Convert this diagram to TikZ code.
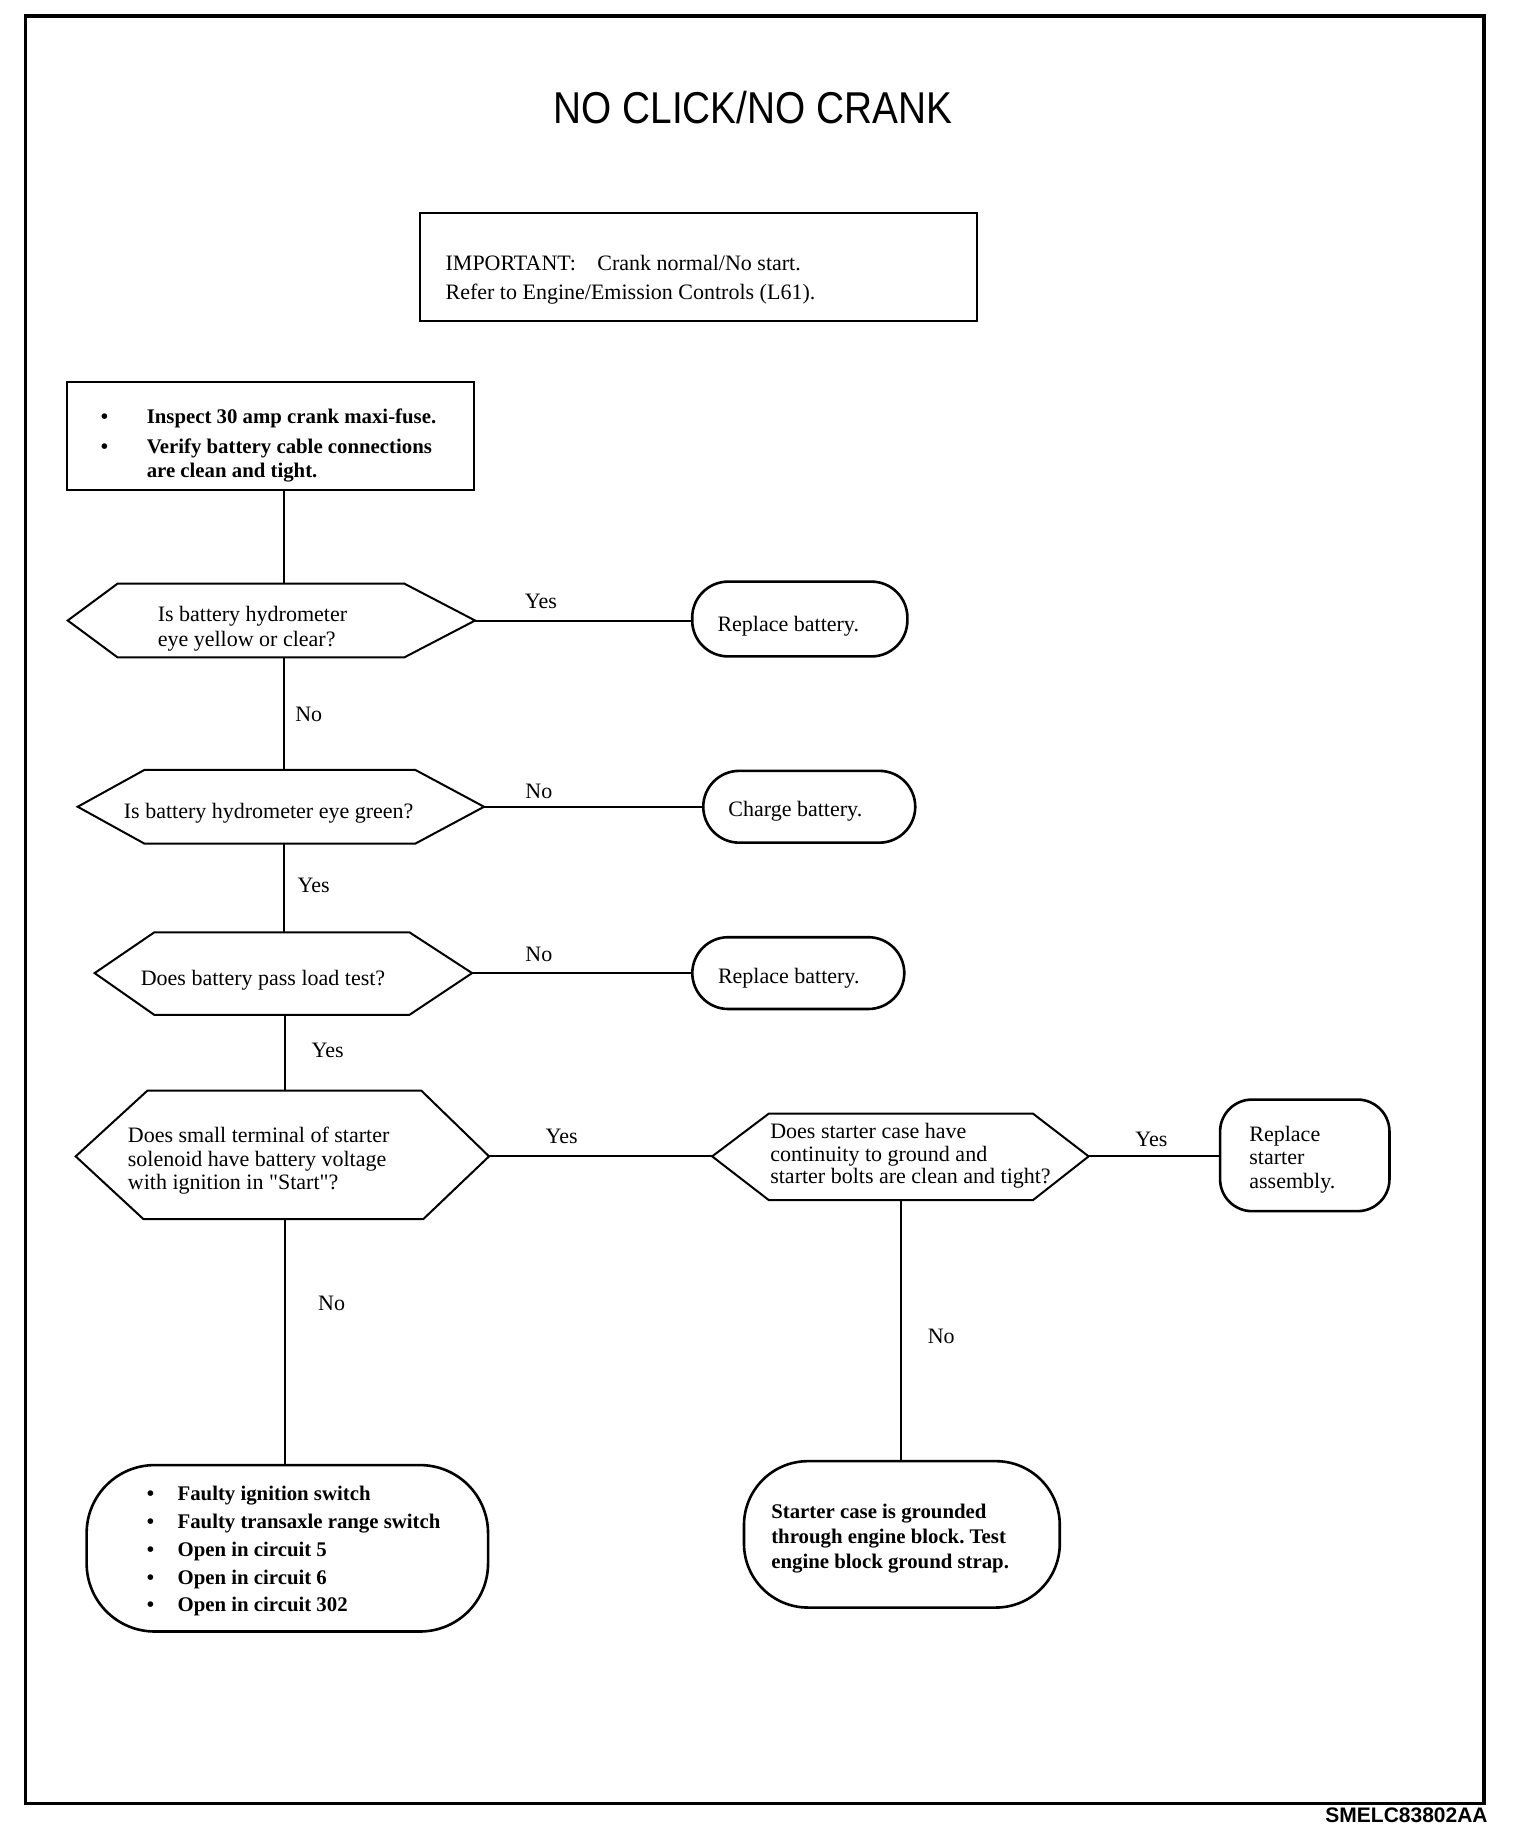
\documentclass[tikz,border=0pt]{standalone}
\usepackage{fontspec}
\setmainfont{Liberation Serif}
\newfontfamily\titlefont[FakeStretch=0.87]{Liberation Sans}
\newfontfamily\codefont{Liberation Sans}
\newcommand\fr[1]{\fontsize{11pt}{#1pt}\selectfont}
\newcommand\fb[1]{\fontsize{10.4pt}{#1pt}\selectfont\bfseries}
\newcommand\dq{\XeTeXglyph\XeTeXcharglyph"22\relax}
\frenchspacing
\begin{document}
\begin{tikzpicture}[x=0.498pt,y=-0.498pt,
  box/.style={draw, line width=1pt, inner sep=0pt},
  hexa/.style={draw, line width=1pt, line join=miter},
  term/.style={draw, line width=1.3pt, inner sep=0pt},
  conn/.style={line width=1pt},
  lbl/.style={font={\fr{11}}, inner sep=0pt},
  txt/.style={inner sep=0pt, align=left, anchor=west}]
\useasboundingbox (0pt,0pt) rectangle (760pt,-920pt);
% frame
\draw[line width=1.6pt] (26,16) rectangle (1490,1811);
\node[font=\codefont\bfseries\fontsize{10.5pt}{12pt}\selectfont, anchor=east, inner sep=0pt] (code) at (1494,1823) {SMELC83802AA};
% title
\node[font=\titlefont\fontsize{22.3pt}{24pt}\selectfont, inner sep=0pt] (title) at (756,108) {NO CLICK/NO CRANK};
% important box
\node[box, minimum width=278.4pt, minimum height=53.8pt] (imp) at (701.5,268) {};
\node[txt, font={\fr{14.5}}] (impt) at (447,281) {IMPORTANT:\hspace{8pt} Crank normal/No start.\\Refer to Engine/Emission Controls (L61).};
% first box
\node[box, minimum width=203.7pt, minimum height=53.8pt] (b0) at (271.5,438) {};
\node[txt, font={\fb{11.75}}] (b0t) at (101,447.5) {\begin{tabular}{@{}l@{\hspace{19.25pt}}l@{}}\textbullet & Inspect 30 amp crank maxi-fuse.\\[3.2pt] \textbullet & Verify battery cable connections\\ & are clean and tight.\end{tabular}};
% hexagon 1
\coordinate (d1w) at (68,623); \coordinate (d1e) at (477,623);
\coordinate (d1n) at (285,586); \coordinate (d1s) at (285,660);
\draw[hexa] (d1w) -- (118,586) -- (406,586) -- (d1e) -- (406,660) -- (118,660) -- cycle;
\node[txt, font={\fr{12.5}}] (d1t) at (158,631) {Is battery hydrometer\\eye yellow or clear?};
% hexagon 2
\coordinate (d2w) at (78,810); \coordinate (d2e) at (486,810);
\coordinate (d2n) at (285,773); \coordinate (d2s) at (285,847);
\draw[hexa] (d2w) -- (145,773) -- (417,773) -- (d2e) -- (417,847) -- (145,847) -- cycle;
\node[txt, font={\fr{13}}] (d2t) at (124,816.5) {Is battery hydrometer eye green?};
% hexagon 3
\coordinate (d3w) at (95,977); \coordinate (d3e) at (474,977);
\coordinate (d3n) at (285,936); \coordinate (d3s) at (286,1019);
\draw[hexa] (d3w) -- (155,936) -- (411,936) -- (d3e) -- (411,1019) -- (155,1019) -- cycle;
\node[txt, font={\fr{13}}] (d3t) at (141,984.5) {Does battery pass load test?};
% hexagon 4
\coordinate (d4w) at (76,1161); \coordinate (d4e) at (491,1161);
\coordinate (d4n) at (286,1095); \coordinate (d4s) at (286,1224);
\draw[hexa] (d4w) -- (148,1095) -- (423,1095) -- (d4e) -- (425,1224) -- (144,1224) -- cycle;
\node[txt, font={\fr{11.75}}] (d4t) at (128,1165.5) {Does small terminal of starter\\solenoid have battery voltage\\with ignition in \dq Start\dq ?};
% hexagon 5
\coordinate (d5w) at (715,1161); \coordinate (d5e) at (1093,1161);
\coordinate (d5n) at (905,1118); \coordinate (d5s) at (905,1205);
\draw[hexa] (d5w) -- (772,1118) -- (1037,1118) -- (d5e) -- (1037,1205) -- (772,1205) -- cycle;
\node[txt, font={\fr{11.25}}] (d5t) at (773,1160.5) {Does starter case have\\continuity to ground and\\starter bolts are clean and tight?};
% terminators
\node[term, rounded corners=18pt, minimum width=107.6pt, minimum height=37.4pt] (t1) at (803,621.5) {};
\node[txt, font={\fr{13}}] (t1t) at (720,629) {Replace battery.};
\node[term, rounded corners=18pt, minimum width=106pt, minimum height=35.9pt] (t2) at (812.5,810) {};
\node[txt, font={\fr{13}}] (t2t) at (731,814) {Charge battery.};
\node[term, rounded corners=18pt, minimum width=106pt, minimum height=35.9pt] (t3) at (801.5,977) {};
\node[txt, font={\fr{13}}] (t3t) at (720.5,982.5) {Replace battery.};
\node[term, rounded corners=16pt, minimum width=84.7pt, minimum height=55.8pt] (t4) at (1310,1160) {};
\node[txt, font={\fr{11.75}}] (t4t) at (1254,1164) {Replace\\starter\\assembly.};
\node[term, rounded corners=34pt, minimum width=200.7pt, minimum height=83.2pt] (t5) at (288.5,1554.5) {};
\node[txt, font={\fb{13.9}}] (t5t) at (147,1557) {\begin{tabular}{@{}l@{\hspace{11.75pt}}l@{}}\textbullet & Faulty ignition switch\\ \textbullet & Faulty transaxle range switch\\ \textbullet & Open in circuit 5\\ \textbullet & Open in circuit 6\\ \textbullet & Open in circuit 302\end{tabular}};
\node[term, rounded corners=32pt, minimum width=157.9pt, minimum height=73.2pt] (t6) at (905.5,1540.5) {};
\node[txt, font={\fb{12.4}}] (t6t) at (774,1544.5) {Starter case is grounded\\through engine block. Test\\engine block ground strap.};
% connectors
\draw[conn] (d1n |- b0.south) -- (d1n);
\draw[conn] (d1s) -- (d2n);
\draw[conn] (d2s) -- (d3n);
\draw[conn] (d3s) -- (d4n);
\draw[conn] (d4s) -- (d4s |- t5.north);
\draw[conn] (d1e) -- (t1.west |- d1e);
\draw[conn] (d2e) -- (t2.west |- d2e);
\draw[conn] (d3e) -- (t3.west |- d3e);
\draw[conn] (d4e) -- (d5w);
\draw[conn] (d5e) -- (t4.west |- d5e);
\draw[conn] (d5s) -- (d5s |- t6.north);
% labels
\node[lbl] (l1) at (543,604) {Yes};
\node[lbl] (l2) at (310,717) {No};
\node[lbl] (l3) at (541,795) {No};
\node[lbl] (l4) at (315,889) {Yes};
\node[lbl] (l5) at (541,958) {No};
\node[lbl] (l6) at (329,1055) {Yes};
\node[lbl] (l7) at (564,1141) {Yes};
\node[lbl] (l8) at (1156,1144) {Yes};
\node[lbl] (l9) at (945,1342) {No};
\node[lbl] (l10) at (333,1309) {No};
\end{tikzpicture}
\end{document}
